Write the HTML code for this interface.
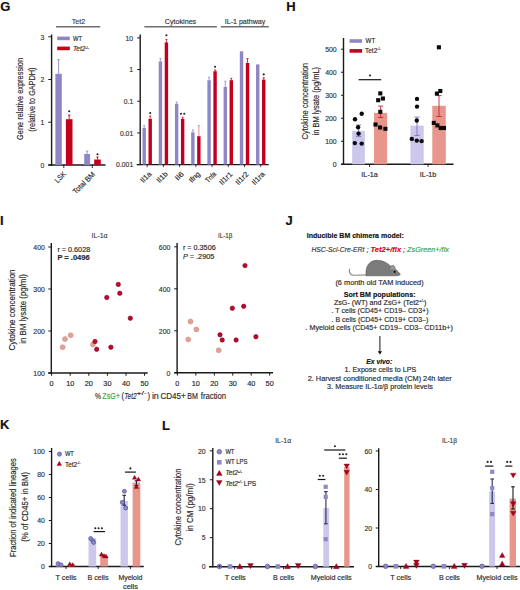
<!DOCTYPE html>
<html><head><meta charset="utf-8"><style>
html,body{margin:0;padding:0;background:#fff;}
svg{display:block;}
text{font-family:"Liberation Sans", sans-serif;}
</style></head><body>
<svg width="520" height="590" viewBox="0 0 520 590">
<rect x="0" y="0" width="520" height="590" fill="#fff"/>
<text x="0.20" y="10.70" font-size="13" text-anchor="start" fill="#111" stroke="#111" stroke-width="0.16" font-weight="bold" >G</text>
<text x="286.20" y="10.80" font-size="13" text-anchor="start" fill="#111" stroke="#111" stroke-width="0.16" font-weight="bold" >H</text>
<text x="0.00" y="224.80" font-size="13" text-anchor="start" fill="#111" stroke="#111" stroke-width="0.16" font-weight="bold" >I</text>
<text x="285.60" y="224.80" font-size="13" text-anchor="start" fill="#111" stroke="#111" stroke-width="0.16" font-weight="bold" >J</text>
<text x="0.10" y="429.30" font-size="13" text-anchor="start" fill="#111" stroke="#111" stroke-width="0.16" font-weight="bold" >K</text>
<text x="162.00" y="429.50" font-size="13" text-anchor="start" fill="#111" stroke="#111" stroke-width="0.16" font-weight="bold" >L</text>
<line x1="51.60" y1="34.50" x2="51.60" y2="165.70" stroke="#1a1a1a" stroke-width="1.4" />
<line x1="48.30" y1="165.00" x2="105.50" y2="165.00" stroke="#1a1a1a" stroke-width="1.4" />
<line x1="48.30" y1="165.00" x2="51.60" y2="165.00" stroke="#1a1a1a" stroke-width="1.0" />
<text x="44.40" y="167.75" font-size="7.7" text-anchor="end" fill="#333" stroke="#333" stroke-width="0.16" textLength="3.85" lengthAdjust="spacingAndGlyphs" >0</text>
<line x1="48.30" y1="122.25" x2="51.60" y2="122.25" stroke="#1a1a1a" stroke-width="1.0" />
<text x="44.40" y="125.00" font-size="7.7" text-anchor="end" fill="#333" stroke="#333" stroke-width="0.16" textLength="3.85" lengthAdjust="spacingAndGlyphs" >1</text>
<line x1="48.30" y1="79.50" x2="51.60" y2="79.50" stroke="#1a1a1a" stroke-width="1.0" />
<text x="44.40" y="82.25" font-size="7.7" text-anchor="end" fill="#333" stroke="#333" stroke-width="0.16" textLength="3.85" lengthAdjust="spacingAndGlyphs" >2</text>
<line x1="48.30" y1="36.75" x2="51.60" y2="36.75" stroke="#1a1a1a" stroke-width="1.0" />
<text x="44.40" y="39.50" font-size="7.7" text-anchor="end" fill="#333" stroke="#333" stroke-width="0.16" textLength="3.85" lengthAdjust="spacingAndGlyphs" >3</text>
<line x1="63.80" y1="165.00" x2="63.80" y2="168.00" stroke="#1a1a1a" stroke-width="0.9" />
<line x1="92.30" y1="165.00" x2="92.30" y2="168.00" stroke="#1a1a1a" stroke-width="0.9" />
<line x1="56.00" y1="26.80" x2="100.20" y2="26.80" stroke="#6e6e6e" stroke-width="1.6" />
<text x="78.50" y="23.80" font-size="7.6" text-anchor="middle" fill="#444" stroke="#444" stroke-width="0.16" textLength="13.4" lengthAdjust="spacingAndGlyphs" >Tet2</text>
<rect x="57.20" y="36.60" width="12.60" height="3.60" fill="#8f86c6" />
<text x="73.00" y="41.00" font-size="6.5" text-anchor="start" fill="#2a2a2a" stroke="#2a2a2a" stroke-width="0.16" textLength="9" lengthAdjust="spacingAndGlyphs" >WT</text>
<rect x="57.20" y="46.60" width="12.60" height="3.60" fill="#c1001f" />
<text x="73.00" y="51.20" font-size="6.5" text-anchor="start" fill="#2a2a2a" stroke="#2a2a2a" stroke-width="0.16" font-style="italic" >Tet2<tspan font-size="3.5" dy="-2.5">-/-</tspan></text>
<line x1="58.60" y1="59.70" x2="58.60" y2="73.80" stroke="#8f86c6" stroke-width="0.9" />
<line x1="57.40" y1="59.70" x2="59.80" y2="59.70" stroke="#8f86c6" stroke-width="0.9" />
<rect x="55.40" y="73.80" width="6.40" height="91.20" fill="#8f86c6" />
<line x1="69.20" y1="115.20" x2="69.20" y2="119.20" stroke="#c1001f" stroke-width="0.9" />
<line x1="68.00" y1="115.20" x2="70.40" y2="115.20" stroke="#c1001f" stroke-width="0.9" />
<rect x="65.90" y="119.20" width="6.60" height="45.80" fill="#c1001f" />
<circle cx="69.20" cy="111.20" r="1.05" fill="#222" />
<line x1="87.10" y1="151.20" x2="87.10" y2="154.00" stroke="#8f86c6" stroke-width="0.9" />
<line x1="85.90" y1="151.20" x2="88.30" y2="151.20" stroke="#8f86c6" stroke-width="0.9" />
<rect x="84.20" y="154.00" width="5.90" height="11.00" fill="#8f86c6" />
<line x1="97.50" y1="157.00" x2="97.50" y2="159.50" stroke="#c1001f" stroke-width="0.9" />
<line x1="96.30" y1="157.00" x2="98.70" y2="157.00" stroke="#c1001f" stroke-width="0.9" />
<rect x="94.20" y="159.50" width="6.60" height="5.50" fill="#c1001f" />
<circle cx="97.50" cy="154.20" r="1.05" fill="#222" />
<text x="66.60" y="174.60" font-size="7.6" text-anchor="end" fill="#2a2a2a" stroke="#2a2a2a" stroke-width="0.16" textLength="12.5" lengthAdjust="spacingAndGlyphs" transform="rotate(-45 66.60 174.60)" >LSK</text>
<text x="95.60" y="174.80" font-size="7.6" text-anchor="end" fill="#2a2a2a" stroke="#2a2a2a" stroke-width="0.16" textLength="28" lengthAdjust="spacingAndGlyphs" transform="rotate(-45 95.60 174.80)" >Total BM</text>
<text x="23.30" y="99.00" font-size="9.6" text-anchor="middle" fill="#2a2a2a" stroke="#2a2a2a" stroke-width="0.16" textLength="82" lengthAdjust="spacingAndGlyphs" transform="rotate(-90 23.30 99.00)" >Gene relative expression</text>
<text x="35.50" y="99.70" font-size="9.6" text-anchor="middle" fill="#2a2a2a" stroke="#2a2a2a" stroke-width="0.16" textLength="64" lengthAdjust="spacingAndGlyphs" transform="rotate(-90 35.50 99.70)" >(relative to GAPDH)</text>
<line x1="140.20" y1="34.50" x2="140.20" y2="165.00" stroke="#1a1a1a" stroke-width="1.4" />
<line x1="136.70" y1="164.60" x2="268.80" y2="164.60" stroke="#1a1a1a" stroke-width="1.4" />
<line x1="137.20" y1="37.88" x2="140.20" y2="37.88" stroke="#1a1a1a" stroke-width="1.0" />
<text x="133.20" y="40.63" font-size="7.7" text-anchor="end" fill="#333" stroke="#333" stroke-width="0.16" textLength="7.7" lengthAdjust="spacingAndGlyphs" >10</text>
<line x1="137.20" y1="69.56" x2="140.20" y2="69.56" stroke="#1a1a1a" stroke-width="1.0" />
<text x="133.20" y="72.31" font-size="7.7" text-anchor="end" fill="#333" stroke="#333" stroke-width="0.16" textLength="3.85" lengthAdjust="spacingAndGlyphs" >1</text>
<line x1="137.20" y1="101.24" x2="140.20" y2="101.24" stroke="#1a1a1a" stroke-width="1.0" />
<text x="133.20" y="103.99" font-size="7.7" text-anchor="end" fill="#333" stroke="#333" stroke-width="0.16" textLength="9.4" lengthAdjust="spacingAndGlyphs" >0.1</text>
<line x1="137.20" y1="132.92" x2="140.20" y2="132.92" stroke="#1a1a1a" stroke-width="1.0" />
<text x="133.20" y="135.67" font-size="7.7" text-anchor="end" fill="#333" stroke="#333" stroke-width="0.16" textLength="13.25" lengthAdjust="spacingAndGlyphs" >0.01</text>
<line x1="137.20" y1="164.60" x2="140.20" y2="164.60" stroke="#1a1a1a" stroke-width="1.0" />
<text x="133.20" y="167.35" font-size="7.7" text-anchor="end" fill="#333" stroke="#333" stroke-width="0.16" textLength="17.1" lengthAdjust="spacingAndGlyphs" >0.001</text>
<line x1="144.40" y1="26.80" x2="216.90" y2="26.80" stroke="#6e6e6e" stroke-width="1.6" />
<text x="180.50" y="23.80" font-size="7.6" text-anchor="middle" fill="#333" stroke="#333" stroke-width="0.16" textLength="31.4" lengthAdjust="spacingAndGlyphs" >Cytokines</text>
<line x1="220.80" y1="26.80" x2="268.80" y2="26.80" stroke="#6e6e6e" stroke-width="1.6" />
<text x="245.00" y="23.90" font-size="7.6" text-anchor="middle" fill="#333" stroke="#333" stroke-width="0.16" textLength="40.5" lengthAdjust="spacingAndGlyphs" >IL-1 pathway</text>
<line x1="144.20" y1="125.60" x2="144.20" y2="127.90" stroke="#8f86c6" stroke-width="0.8" />
<line x1="143.20" y1="125.60" x2="145.20" y2="125.60" stroke="#8f86c6" stroke-width="0.8" />
<rect x="142.50" y="127.90" width="3.40" height="36.70" fill="#8f86c6" />
<line x1="150.20" y1="116.00" x2="150.20" y2="118.80" stroke="#c1001f" stroke-width="0.8" />
<line x1="149.20" y1="116.00" x2="151.20" y2="116.00" stroke="#c1001f" stroke-width="0.8" />
<rect x="148.50" y="118.80" width="3.40" height="45.80" fill="#c1001f" />
<circle cx="150.20" cy="113.00" r="1.05" fill="#222" />
<line x1="147.20" y1="164.60" x2="147.20" y2="167.20" stroke="#1a1a1a" stroke-width="0.8" />
<text x="151.90" y="174.60" font-size="7.4" text-anchor="end" fill="#2a2a2a" stroke="#2a2a2a" stroke-width="0.16" textLength="12.2" lengthAdjust="spacingAndGlyphs" transform="rotate(-45 151.90 174.60)" >Il1a</text>
<line x1="160.42" y1="58.50" x2="160.42" y2="61.40" stroke="#8f86c6" stroke-width="0.8" />
<line x1="159.42" y1="58.50" x2="161.42" y2="58.50" stroke="#8f86c6" stroke-width="0.8" />
<rect x="158.72" y="61.40" width="3.40" height="103.20" fill="#8f86c6" />
<line x1="166.42" y1="39.40" x2="166.42" y2="42.40" stroke="#c1001f" stroke-width="0.8" />
<line x1="165.42" y1="39.40" x2="167.42" y2="39.40" stroke="#c1001f" stroke-width="0.8" />
<rect x="164.72" y="42.40" width="3.40" height="122.20" fill="#c1001f" />
<circle cx="166.42" cy="35.30" r="1.05" fill="#222" />
<line x1="163.42" y1="164.60" x2="163.42" y2="167.20" stroke="#1a1a1a" stroke-width="0.8" />
<text x="168.12" y="174.60" font-size="7.4" text-anchor="end" fill="#2a2a2a" stroke="#2a2a2a" stroke-width="0.16" textLength="12.2" lengthAdjust="spacingAndGlyphs" transform="rotate(-45 168.12 174.60)" >Il1b</text>
<line x1="176.64" y1="102.00" x2="176.64" y2="103.80" stroke="#8f86c6" stroke-width="0.8" />
<line x1="175.64" y1="102.00" x2="177.64" y2="102.00" stroke="#8f86c6" stroke-width="0.8" />
<rect x="174.94" y="103.80" width="3.40" height="60.80" fill="#8f86c6" />
<line x1="182.64" y1="117.30" x2="182.64" y2="118.80" stroke="#c1001f" stroke-width="0.8" />
<line x1="181.64" y1="117.30" x2="183.64" y2="117.30" stroke="#c1001f" stroke-width="0.8" />
<rect x="180.94" y="118.80" width="3.40" height="45.80" fill="#c1001f" />
<circle cx="180.99" cy="113.70" r="1.05" fill="#222" />
<circle cx="184.29" cy="113.70" r="1.05" fill="#222" />
<line x1="179.64" y1="164.60" x2="179.64" y2="167.20" stroke="#1a1a1a" stroke-width="0.8" />
<text x="184.34" y="174.60" font-size="7.4" text-anchor="end" fill="#2a2a2a" stroke="#2a2a2a" stroke-width="0.16" textLength="9.149999999999999" lengthAdjust="spacingAndGlyphs" transform="rotate(-45 184.34 174.60)" >Il6</text>
<line x1="192.86" y1="130.00" x2="192.86" y2="132.30" stroke="#8f86c6" stroke-width="0.8" />
<line x1="191.86" y1="130.00" x2="193.86" y2="130.00" stroke="#8f86c6" stroke-width="0.8" />
<rect x="191.16" y="132.30" width="3.40" height="32.30" fill="#8f86c6" />
<line x1="198.86" y1="125.60" x2="198.86" y2="136.20" stroke="#d9707f" stroke-width="0.8" />
<line x1="197.86" y1="125.60" x2="199.86" y2="125.60" stroke="#d9707f" stroke-width="0.8" />
<rect x="197.16" y="136.20" width="3.40" height="28.40" fill="#c1001f" />
<line x1="195.86" y1="164.60" x2="195.86" y2="167.20" stroke="#1a1a1a" stroke-width="0.8" />
<text x="200.56" y="174.60" font-size="7.4" text-anchor="end" fill="#2a2a2a" stroke="#2a2a2a" stroke-width="0.16" textLength="12.2" lengthAdjust="spacingAndGlyphs" transform="rotate(-45 200.56 174.60)" >Ifng</text>
<line x1="209.08" y1="77.20" x2="209.08" y2="80.20" stroke="#8f86c6" stroke-width="0.8" />
<line x1="208.08" y1="77.20" x2="210.08" y2="77.20" stroke="#8f86c6" stroke-width="0.8" />
<rect x="207.38" y="80.20" width="3.40" height="84.40" fill="#8f86c6" />
<line x1="215.08" y1="70.00" x2="215.08" y2="71.20" stroke="#c1001f" stroke-width="0.8" />
<line x1="214.08" y1="70.00" x2="216.08" y2="70.00" stroke="#c1001f" stroke-width="0.8" />
<rect x="213.38" y="71.20" width="3.40" height="93.40" fill="#c1001f" />
<circle cx="215.08" cy="66.70" r="1.05" fill="#222" />
<line x1="212.08" y1="164.60" x2="212.08" y2="167.20" stroke="#1a1a1a" stroke-width="0.8" />
<text x="216.78" y="174.60" font-size="7.4" text-anchor="end" fill="#2a2a2a" stroke="#2a2a2a" stroke-width="0.16" textLength="12.2" lengthAdjust="spacingAndGlyphs" transform="rotate(-45 216.78 174.60)" >Tnfa</text>
<line x1="225.30" y1="81.20" x2="225.30" y2="86.90" stroke="#8f86c6" stroke-width="0.8" />
<line x1="224.30" y1="81.20" x2="226.30" y2="81.20" stroke="#8f86c6" stroke-width="0.8" />
<rect x="223.60" y="86.90" width="3.40" height="77.70" fill="#8f86c6" />
<line x1="231.30" y1="78.30" x2="231.30" y2="80.20" stroke="#c1001f" stroke-width="0.8" />
<line x1="230.30" y1="78.30" x2="232.30" y2="78.30" stroke="#c1001f" stroke-width="0.8" />
<rect x="229.60" y="80.20" width="3.40" height="84.40" fill="#c1001f" />
<line x1="228.30" y1="164.60" x2="228.30" y2="167.20" stroke="#1a1a1a" stroke-width="0.8" />
<text x="233.00" y="174.60" font-size="7.4" text-anchor="end" fill="#2a2a2a" stroke="#2a2a2a" stroke-width="0.16" textLength="15.25" lengthAdjust="spacingAndGlyphs" transform="rotate(-45 233.00 174.60)" >Il1r1</text>
<rect x="239.82" y="51.30" width="3.40" height="113.30" fill="#8f86c6" />
<line x1="247.52" y1="58.50" x2="247.52" y2="62.90" stroke="#c1001f" stroke-width="0.8" />
<line x1="246.52" y1="58.50" x2="248.52" y2="58.50" stroke="#c1001f" stroke-width="0.8" />
<rect x="245.82" y="62.90" width="3.40" height="101.70" fill="#c1001f" />
<line x1="244.52" y1="164.60" x2="244.52" y2="167.20" stroke="#1a1a1a" stroke-width="0.8" />
<text x="249.22" y="174.60" font-size="7.4" text-anchor="end" fill="#2a2a2a" stroke="#2a2a2a" stroke-width="0.16" textLength="15.25" lengthAdjust="spacingAndGlyphs" transform="rotate(-45 249.22 174.60)" >Il1r2</text>
<rect x="256.04" y="64.40" width="3.40" height="100.20" fill="#8f86c6" />
<line x1="263.74" y1="77.70" x2="263.74" y2="79.60" stroke="#c1001f" stroke-width="0.8" />
<line x1="262.74" y1="77.70" x2="264.74" y2="77.70" stroke="#c1001f" stroke-width="0.8" />
<rect x="262.04" y="79.60" width="3.40" height="85.00" fill="#c1001f" />
<circle cx="263.74" cy="74.40" r="1.05" fill="#222" />
<line x1="260.74" y1="164.60" x2="260.74" y2="167.20" stroke="#1a1a1a" stroke-width="0.8" />
<text x="265.44" y="174.60" font-size="7.4" text-anchor="end" fill="#2a2a2a" stroke="#2a2a2a" stroke-width="0.16" textLength="15.25" lengthAdjust="spacingAndGlyphs" transform="rotate(-45 265.44 174.60)" >Il1ra</text>
<line x1="343.50" y1="38.00" x2="343.50" y2="164.80" stroke="#1a1a1a" stroke-width="1.4" />
<line x1="341.00" y1="164.30" x2="453.50" y2="164.30" stroke="#1a1a1a" stroke-width="1.4" />
<line x1="341.00" y1="164.30" x2="343.50" y2="164.30" stroke="#1a1a1a" stroke-width="1.0" />
<text x="336.70" y="167.05" font-size="7.7" text-anchor="end" fill="#333" stroke="#333" stroke-width="0.16" textLength="3.85" lengthAdjust="spacingAndGlyphs" >0</text>
<line x1="341.00" y1="141.28" x2="343.50" y2="141.28" stroke="#1a1a1a" stroke-width="1.0" />
<text x="336.70" y="144.03" font-size="7.7" text-anchor="end" fill="#333" stroke="#333" stroke-width="0.16" textLength="11.55" lengthAdjust="spacingAndGlyphs" >100</text>
<line x1="341.00" y1="118.26" x2="343.50" y2="118.26" stroke="#1a1a1a" stroke-width="1.0" />
<text x="336.70" y="121.01" font-size="7.7" text-anchor="end" fill="#333" stroke="#333" stroke-width="0.16" textLength="11.55" lengthAdjust="spacingAndGlyphs" >200</text>
<line x1="341.00" y1="95.24" x2="343.50" y2="95.24" stroke="#1a1a1a" stroke-width="1.0" />
<text x="336.70" y="97.99" font-size="7.7" text-anchor="end" fill="#333" stroke="#333" stroke-width="0.16" textLength="11.55" lengthAdjust="spacingAndGlyphs" >300</text>
<line x1="341.00" y1="72.22" x2="343.50" y2="72.22" stroke="#1a1a1a" stroke-width="1.0" />
<text x="336.70" y="74.97" font-size="7.7" text-anchor="end" fill="#333" stroke="#333" stroke-width="0.16" textLength="11.55" lengthAdjust="spacingAndGlyphs" >400</text>
<line x1="341.00" y1="49.20" x2="343.50" y2="49.20" stroke="#1a1a1a" stroke-width="1.0" />
<text x="336.70" y="51.95" font-size="7.7" text-anchor="end" fill="#333" stroke="#333" stroke-width="0.16" textLength="11.55" lengthAdjust="spacingAndGlyphs" >500</text>
<line x1="369.60" y1="164.30" x2="369.60" y2="167.00" stroke="#1a1a1a" stroke-width="0.9" />
<line x1="428.10" y1="164.30" x2="428.10" y2="167.00" stroke="#1a1a1a" stroke-width="0.9" />
<text x="369.60" y="177.10" font-size="7" text-anchor="middle" fill="#2a2a2a" stroke="#2a2a2a" stroke-width="0.16" textLength="16.5" lengthAdjust="spacingAndGlyphs" >IL-1a</text>
<text x="428.10" y="177.10" font-size="7" text-anchor="middle" fill="#2a2a2a" stroke="#2a2a2a" stroke-width="0.16" textLength="16.5" lengthAdjust="spacingAndGlyphs" >IL-1b</text>
<rect x="349.60" y="39.20" width="12.50" height="3.60" fill="#8f86c6" />
<text x="365.60" y="42.90" font-size="6.8" text-anchor="start" fill="#2a2a2a" stroke="#2a2a2a" stroke-width="0.16" textLength="9.6" lengthAdjust="spacingAndGlyphs" >WT</text>
<rect x="349.60" y="49.10" width="12.50" height="3.60" fill="#c1001f" />
<text x="365.00" y="52.80" font-size="6.5" text-anchor="start" fill="#2a2a2a" stroke="#2a2a2a" stroke-width="0.16" >Tet2<tspan font-size="3.5" dy="-2.5">-/-</tspan></text>
<line x1="358.60" y1="79.70" x2="381.20" y2="79.70" stroke="#151515" stroke-width="1.2" />
<circle cx="370.00" cy="75.50" r="1.05" fill="#222" />
<rect x="352.20" y="130.90" width="12.70" height="33.40" fill="#cbc8ec" />
<rect x="374.00" y="112.90" width="13.10" height="51.40" fill="#e8968b" />
<rect x="410.40" y="125.60" width="13.30" height="38.70" fill="#cbc8ec" />
<rect x="432.30" y="105.80" width="13.50" height="58.50" fill="#e8968b" />
<line x1="358.60" y1="125.00" x2="358.60" y2="136.60" stroke="#7d75bb" stroke-width="0.9" />
<line x1="356.00" y1="125.00" x2="361.20" y2="125.00" stroke="#7d75bb" stroke-width="0.9" />
<line x1="356.00" y1="136.60" x2="361.20" y2="136.60" stroke="#7d75bb" stroke-width="0.9" />
<line x1="380.60" y1="106.10" x2="380.60" y2="117.50" stroke="#c0283a" stroke-width="0.9" />
<line x1="378.00" y1="106.10" x2="383.20" y2="106.10" stroke="#c0283a" stroke-width="0.9" />
<line x1="378.00" y1="117.50" x2="383.20" y2="117.50" stroke="#c0283a" stroke-width="0.9" />
<line x1="417.00" y1="117.10" x2="417.00" y2="135.50" stroke="#7d75bb" stroke-width="0.9" />
<line x1="414.40" y1="117.10" x2="419.60" y2="117.10" stroke="#7d75bb" stroke-width="0.9" />
<line x1="414.40" y1="135.50" x2="419.60" y2="135.50" stroke="#7d75bb" stroke-width="0.9" />
<line x1="439.00" y1="95.60" x2="439.00" y2="116.50" stroke="#c0283a" stroke-width="0.9" />
<line x1="436.40" y1="95.60" x2="441.60" y2="95.60" stroke="#c0283a" stroke-width="0.9" />
<line x1="436.40" y1="116.50" x2="441.60" y2="116.50" stroke="#c0283a" stroke-width="0.9" />
<circle cx="355.00" cy="119.20" r="2.2" fill="#0a0a0a" />
<circle cx="361.70" cy="113.70" r="2.2" fill="#0a0a0a" />
<circle cx="358.10" cy="127.30" r="2.2" fill="#0a0a0a" />
<circle cx="358.60" cy="133.60" r="2.2" fill="#0a0a0a" />
<circle cx="354.80" cy="143.10" r="2.2" fill="#0a0a0a" />
<circle cx="361.70" cy="143.60" r="2.2" fill="#0a0a0a" />
<circle cx="417.00" cy="98.90" r="2.2" fill="#0a0a0a" />
<circle cx="417.00" cy="106.60" r="2.2" fill="#0a0a0a" />
<circle cx="416.80" cy="120.50" r="2.2" fill="#0a0a0a" />
<circle cx="411.80" cy="138.90" r="2.2" fill="#0a0a0a" />
<circle cx="416.80" cy="140.60" r="2.2" fill="#0a0a0a" />
<circle cx="421.60" cy="141.10" r="2.2" fill="#0a0a0a" />
<rect x="378.25" y="91.35" width="4.10" height="4.10" fill="#0a0a0a" />
<rect x="376.15" y="98.15" width="4.10" height="4.10" fill="#0a0a0a" />
<rect x="380.85" y="96.45" width="4.10" height="4.10" fill="#0a0a0a" />
<rect x="378.25" y="109.75" width="4.10" height="4.10" fill="#0a0a0a" />
<rect x="373.45" y="122.45" width="4.10" height="4.10" fill="#0a0a0a" />
<rect x="378.05" y="125.45" width="4.10" height="4.10" fill="#0a0a0a" />
<rect x="383.35" y="126.75" width="4.10" height="4.10" fill="#0a0a0a" />
<rect x="436.85" y="45.25" width="4.10" height="4.10" fill="#0a0a0a" />
<rect x="438.25" y="88.95" width="4.10" height="4.10" fill="#0a0a0a" />
<rect x="434.85" y="91.55" width="4.10" height="4.10" fill="#0a0a0a" />
<rect x="431.75" y="120.85" width="4.10" height="4.10" fill="#0a0a0a" />
<rect x="435.35" y="123.35" width="4.10" height="4.10" fill="#0a0a0a" />
<rect x="438.65" y="125.95" width="4.10" height="4.10" fill="#0a0a0a" />
<rect x="441.95" y="125.95" width="4.10" height="4.10" fill="#0a0a0a" />
<text x="307.60" y="101.20" font-size="9.6" text-anchor="middle" fill="#2a2a2a" stroke="#2a2a2a" stroke-width="0.16" textLength="76.5" lengthAdjust="spacingAndGlyphs" transform="rotate(-90 307.60 101.20)" >Cytokine concentration</text>
<text x="318.60" y="101.20" font-size="9.6" text-anchor="middle" fill="#2a2a2a" stroke="#2a2a2a" stroke-width="0.16" textLength="68.5" lengthAdjust="spacingAndGlyphs" transform="rotate(-90 318.60 101.20)" >in BM lysate (pg/mL)</text>
<line x1="51.30" y1="243.00" x2="51.30" y2="373.70" stroke="#1a1a1a" stroke-width="1.4" />
<line x1="48.30" y1="373.00" x2="147.70" y2="373.00" stroke="#1a1a1a" stroke-width="1.4" />
<line x1="48.30" y1="373.00" x2="51.10" y2="373.00" stroke="#1a1a1a" stroke-width="1.0" />
<text x="44.90" y="375.75" font-size="7.7" text-anchor="end" fill="#333" stroke="#333" stroke-width="0.16" textLength="11.55" lengthAdjust="spacingAndGlyphs" >100</text>
<line x1="48.30" y1="331.00" x2="51.10" y2="331.00" stroke="#1a1a1a" stroke-width="1.0" />
<text x="44.90" y="333.75" font-size="7.7" text-anchor="end" fill="#333" stroke="#333" stroke-width="0.16" textLength="11.55" lengthAdjust="spacingAndGlyphs" >200</text>
<line x1="48.30" y1="289.00" x2="51.10" y2="289.00" stroke="#1a1a1a" stroke-width="1.0" />
<text x="44.90" y="291.75" font-size="7.7" text-anchor="end" fill="#333" stroke="#333" stroke-width="0.16" textLength="11.55" lengthAdjust="spacingAndGlyphs" >300</text>
<line x1="48.30" y1="247.00" x2="51.10" y2="247.00" stroke="#1a1a1a" stroke-width="1.0" />
<text x="44.90" y="249.75" font-size="7.7" text-anchor="end" fill="#333" stroke="#333" stroke-width="0.16" textLength="11.55" lengthAdjust="spacingAndGlyphs" >400</text>
<line x1="51.60" y1="373.00" x2="51.60" y2="375.80" stroke="#1a1a1a" stroke-width="1.0" />
<text x="51.60" y="386.10" font-size="7.3" text-anchor="middle" fill="#2a2a2a" stroke="#2a2a2a" stroke-width="0.16" >0</text>
<line x1="70.20" y1="373.00" x2="70.20" y2="375.80" stroke="#1a1a1a" stroke-width="1.0" />
<text x="70.20" y="386.10" font-size="7.3" text-anchor="middle" fill="#2a2a2a" stroke="#2a2a2a" stroke-width="0.16" >10</text>
<line x1="88.80" y1="373.00" x2="88.80" y2="375.80" stroke="#1a1a1a" stroke-width="1.0" />
<text x="88.80" y="386.10" font-size="7.3" text-anchor="middle" fill="#2a2a2a" stroke="#2a2a2a" stroke-width="0.16" >20</text>
<line x1="107.40" y1="373.00" x2="107.40" y2="375.80" stroke="#1a1a1a" stroke-width="1.0" />
<text x="107.40" y="386.10" font-size="7.3" text-anchor="middle" fill="#2a2a2a" stroke="#2a2a2a" stroke-width="0.16" >30</text>
<line x1="126.00" y1="373.00" x2="126.00" y2="375.80" stroke="#1a1a1a" stroke-width="1.0" />
<text x="126.00" y="386.10" font-size="7.3" text-anchor="middle" fill="#2a2a2a" stroke="#2a2a2a" stroke-width="0.16" >40</text>
<line x1="144.60" y1="373.00" x2="144.60" y2="375.80" stroke="#1a1a1a" stroke-width="1.0" />
<text x="144.60" y="386.10" font-size="7.3" text-anchor="middle" fill="#2a2a2a" stroke="#2a2a2a" stroke-width="0.16" >50</text>
<text x="99.60" y="237.60" font-size="7.4" text-anchor="middle" fill="#444" stroke="#444" stroke-width="0.16" textLength="16.0" lengthAdjust="spacingAndGlyphs" >IL-1&#945;</text>
<text x="57.40" y="251.60" font-size="7" text-anchor="start" fill="#2a2a2a" stroke="#2a2a2a" stroke-width="0.16" textLength="32.8" lengthAdjust="spacingAndGlyphs" >r = 0.6028</text>
<text x="57.40" y="259.60" font-size="7" text-anchor="start" fill="#2a2a2a" stroke="#2a2a2a" stroke-width="0.16" font-weight="bold" textLength="32.3" lengthAdjust="spacingAndGlyphs" >P = .0496</text>
<circle cx="70.70" cy="335.20" r="2.5" fill="#dfa294" stroke="#c98b80" stroke-width="0.5"/>
<circle cx="65.00" cy="339.00" r="2.5" fill="#dfa294" stroke="#c98b80" stroke-width="0.5"/>
<circle cx="62.60" cy="347.20" r="2.5" fill="#dfa294" stroke="#c98b80" stroke-width="0.5"/>
<circle cx="92.90" cy="344.50" r="2.5" fill="#dfa294" stroke="#c98b80" stroke-width="0.5"/>
<circle cx="118.30" cy="284.40" r="2.2" fill="#bd0a2c" stroke="#800019" stroke-width="0.6"/>
<circle cx="119.80" cy="293.30" r="2.2" fill="#bd0a2c" stroke="#800019" stroke-width="0.6"/>
<circle cx="106.80" cy="297.50" r="2.2" fill="#bd0a2c" stroke="#800019" stroke-width="0.6"/>
<circle cx="130.30" cy="318.20" r="2.2" fill="#bd0a2c" stroke="#800019" stroke-width="0.6"/>
<circle cx="95.00" cy="341.50" r="2.2" fill="#bd0a2c" stroke="#800019" stroke-width="0.6"/>
<circle cx="96.70" cy="349.30" r="2.2" fill="#bd0a2c" stroke="#800019" stroke-width="0.6"/>
<circle cx="110.90" cy="347.20" r="2.2" fill="#bd0a2c" stroke="#800019" stroke-width="0.6"/>
<line x1="177.10" y1="243.00" x2="177.10" y2="373.50" stroke="#1a1a1a" stroke-width="1.4" />
<line x1="174.20" y1="372.80" x2="273.00" y2="372.80" stroke="#1a1a1a" stroke-width="1.4" />
<line x1="174.20" y1="372.80" x2="177.10" y2="372.80" stroke="#1a1a1a" stroke-width="1.0" />
<text x="170.40" y="375.55" font-size="7.7" text-anchor="end" fill="#333" stroke="#333" stroke-width="0.16" textLength="3.85" lengthAdjust="spacingAndGlyphs" >0</text>
<line x1="174.20" y1="330.80" x2="177.10" y2="330.80" stroke="#1a1a1a" stroke-width="1.0" />
<text x="170.40" y="333.55" font-size="7.7" text-anchor="end" fill="#333" stroke="#333" stroke-width="0.16" textLength="11.55" lengthAdjust="spacingAndGlyphs" >200</text>
<line x1="174.20" y1="288.80" x2="177.10" y2="288.80" stroke="#1a1a1a" stroke-width="1.0" />
<text x="170.40" y="291.55" font-size="7.7" text-anchor="end" fill="#333" stroke="#333" stroke-width="0.16" textLength="11.55" lengthAdjust="spacingAndGlyphs" >400</text>
<line x1="174.20" y1="246.80" x2="177.10" y2="246.80" stroke="#1a1a1a" stroke-width="1.0" />
<text x="170.40" y="249.55" font-size="7.7" text-anchor="end" fill="#333" stroke="#333" stroke-width="0.16" textLength="11.55" lengthAdjust="spacingAndGlyphs" >600</text>
<line x1="177.40" y1="372.80" x2="177.40" y2="375.60" stroke="#1a1a1a" stroke-width="1.0" />
<text x="177.40" y="386.10" font-size="7.3" text-anchor="middle" fill="#2a2a2a" stroke="#2a2a2a" stroke-width="0.16" >0</text>
<line x1="195.85" y1="372.80" x2="195.85" y2="375.60" stroke="#1a1a1a" stroke-width="1.0" />
<text x="195.85" y="386.10" font-size="7.3" text-anchor="middle" fill="#2a2a2a" stroke="#2a2a2a" stroke-width="0.16" >10</text>
<line x1="214.30" y1="372.80" x2="214.30" y2="375.60" stroke="#1a1a1a" stroke-width="1.0" />
<text x="214.30" y="386.10" font-size="7.3" text-anchor="middle" fill="#2a2a2a" stroke="#2a2a2a" stroke-width="0.16" >20</text>
<line x1="232.75" y1="372.80" x2="232.75" y2="375.60" stroke="#1a1a1a" stroke-width="1.0" />
<text x="232.75" y="386.10" font-size="7.3" text-anchor="middle" fill="#2a2a2a" stroke="#2a2a2a" stroke-width="0.16" >30</text>
<line x1="251.20" y1="372.80" x2="251.20" y2="375.60" stroke="#1a1a1a" stroke-width="1.0" />
<text x="251.20" y="386.10" font-size="7.3" text-anchor="middle" fill="#2a2a2a" stroke="#2a2a2a" stroke-width="0.16" >40</text>
<line x1="269.65" y1="372.80" x2="269.65" y2="375.60" stroke="#1a1a1a" stroke-width="1.0" />
<text x="269.65" y="386.10" font-size="7.3" text-anchor="middle" fill="#2a2a2a" stroke="#2a2a2a" stroke-width="0.16" >50</text>
<text x="225.20" y="237.60" font-size="7.4" text-anchor="middle" fill="#444" stroke="#444" stroke-width="0.16" textLength="14.6" lengthAdjust="spacingAndGlyphs" >IL-1&#946;</text>
<text x="182.90" y="250.30" font-size="7" text-anchor="start" fill="#2a2a2a" stroke="#2a2a2a" stroke-width="0.16" textLength="32.8" lengthAdjust="spacingAndGlyphs" >r = 0.3506</text>
<text x="182.90" y="258.50" font-size="7" text-anchor="start" fill="#2a2a2a" stroke="#2a2a2a" stroke-width="0.16" textLength="31.5" lengthAdjust="spacingAndGlyphs" ><tspan font-style="italic">P</tspan> = .2905</text>
<circle cx="190.50" cy="321.50" r="2.5" fill="#dfa294" stroke="#c98b80" stroke-width="0.5"/>
<circle cx="196.40" cy="329.40" r="2.5" fill="#dfa294" stroke="#c98b80" stroke-width="0.5"/>
<circle cx="188.30" cy="339.40" r="2.5" fill="#dfa294" stroke="#c98b80" stroke-width="0.5"/>
<circle cx="218.70" cy="350.30" r="2.5" fill="#dfa294" stroke="#c98b80" stroke-width="0.5"/>
<circle cx="245.00" cy="265.60" r="2.2" fill="#bd0a2c" stroke="#800019" stroke-width="0.6"/>
<circle cx="232.30" cy="308.20" r="2.2" fill="#bd0a2c" stroke="#800019" stroke-width="0.6"/>
<circle cx="243.70" cy="306.30" r="2.2" fill="#bd0a2c" stroke="#800019" stroke-width="0.6"/>
<circle cx="220.00" cy="334.80" r="2.2" fill="#bd0a2c" stroke="#800019" stroke-width="0.6"/>
<circle cx="222.20" cy="340.00" r="2.2" fill="#bd0a2c" stroke="#800019" stroke-width="0.6"/>
<circle cx="236.10" cy="340.00" r="2.2" fill="#bd0a2c" stroke="#800019" stroke-width="0.6"/>
<circle cx="255.90" cy="336.70" r="2.2" fill="#bd0a2c" stroke="#800019" stroke-width="0.6"/>
<text x="14.80" y="310.00" font-size="9.6" text-anchor="middle" fill="#2a2a2a" stroke="#2a2a2a" stroke-width="0.16" textLength="81" lengthAdjust="spacingAndGlyphs" transform="rotate(-90 14.80 310.00)" >Cytokine concentration</text>
<text x="26.40" y="309.00" font-size="9.6" text-anchor="middle" fill="#2a2a2a" stroke="#2a2a2a" stroke-width="0.16" textLength="69.5" lengthAdjust="spacingAndGlyphs" transform="rotate(-90 26.40 309.00)" >in BM lysate (pg/ml)</text>
<text x="95.00" y="398.50" font-size="9.2" text-anchor="start" fill="#2a2a2a" stroke="#2a2a2a" stroke-width="0.16" textLength="6.0" lengthAdjust="spacingAndGlyphs" >%</text>
<text x="102.30" y="398.50" font-size="9.2" text-anchor="start" fill="#3aa54a" stroke="#3aa54a" stroke-width="0.16" textLength="17.6" lengthAdjust="spacingAndGlyphs" >ZsG+</text>
<text x="121.50" y="398.50" font-size="9.2" text-anchor="start" fill="#2a2a2a" stroke="#2a2a2a" stroke-width="0.16" textLength="2.6" lengthAdjust="spacingAndGlyphs" >(</text>
<text x="124.20" y="398.50" font-size="9.2" text-anchor="start" fill="#2a2a2a" stroke="#2a2a2a" stroke-width="0.16" font-style="italic" textLength="12.4" lengthAdjust="spacingAndGlyphs" >Tet2</text>
<text x="136.60" y="395.10" font-size="5.6" text-anchor="start" fill="#2a2a2a" stroke="#2a2a2a" stroke-width="0.16" textLength="10.2" lengthAdjust="spacingAndGlyphs" >+/-</text>
<text x="147.60" y="398.50" font-size="9.2" text-anchor="start" fill="#2a2a2a" stroke="#2a2a2a" stroke-width="0.16" textLength="2.6" lengthAdjust="spacingAndGlyphs" >)</text>
<text x="151.90" y="398.50" font-size="9.2" text-anchor="start" fill="#2a2a2a" stroke="#2a2a2a" stroke-width="0.16" textLength="6.9" lengthAdjust="spacingAndGlyphs" >in</text>
<text x="160.40" y="398.50" font-size="9.2" text-anchor="start" fill="#2a2a2a" stroke="#2a2a2a" stroke-width="0.16" textLength="25.3" lengthAdjust="spacingAndGlyphs" >CD45+</text>
<text x="187.30" y="398.50" font-size="9.2" text-anchor="start" fill="#2a2a2a" stroke="#2a2a2a" stroke-width="0.16" textLength="10.7" lengthAdjust="spacingAndGlyphs" >BM</text>
<text x="200.80" y="398.50" font-size="9.2" text-anchor="start" fill="#2a2a2a" stroke="#2a2a2a" stroke-width="0.16" textLength="25.3" lengthAdjust="spacingAndGlyphs" >fraction</text>
<text x="306.70" y="237.80" font-size="7.2" text-anchor="start" fill="#111" stroke="#111" stroke-width="0.16" font-weight="bold" textLength="97.2" lengthAdjust="spacingAndGlyphs" >Inducible BM chimera model:</text>
<text x="311.40" y="251.60" font-size="7.6" text-anchor="start" fill="#333" stroke="#333" stroke-width="0.16" font-style="italic" textLength="53.0" lengthAdjust="spacingAndGlyphs" >HSC-Scl-Cre-ERt</text>
<text x="366.60" y="251.60" font-size="7.6" text-anchor="start" fill="#333" stroke="#333" stroke-width="0.16" font-style="italic" textLength="2.2" lengthAdjust="spacingAndGlyphs" >;</text>
<text x="370.50" y="251.60" font-size="7.6" text-anchor="start" fill="#e3001b" stroke="#e3001b" stroke-width="0.16" font-weight="bold" font-style="italic" textLength="30.6" lengthAdjust="spacingAndGlyphs" >Tet2+/flx</text>
<text x="402.90" y="251.60" font-size="7.6" text-anchor="start" fill="#333" stroke="#333" stroke-width="0.16" font-style="italic" textLength="2.2" lengthAdjust="spacingAndGlyphs" >;</text>
<text x="407.10" y="251.60" font-size="7.6" text-anchor="start" fill="#3c9e4c" stroke="#3c9e4c" stroke-width="0.16" font-style="italic" textLength="41.8" lengthAdjust="spacingAndGlyphs" >ZsGreen+/flx</text>
<path d="M349.6,269.2 C348.6,272.6 350.2,275.4 354.5,275.2 L367.5,274.9" fill="none" stroke="#8a8a8a" stroke-width="1.1" stroke-linecap="round"/>
<path d="M366.2,275.8 C364.8,266.5 369.5,260.3 377,260.3 C384,260.3 388.5,264 391,266.5 C395,268.5 398.5,271.5 400.3,274.3 C399.8,275.6 398,275.8 395,275.8 Z" fill="#7b7b7b" stroke="#5a5a5a" stroke-width="0.6"/>
<path d="M389.6,270.5 C389.4,267.5 390.8,265.3 392.6,265.3 C394.4,265.3 395.6,267.3 395.3,270.2 Z" fill="#959595" stroke="#606060" stroke-width="0.5"/>
<circle cx="394.70" cy="271.80" r="1.15" fill="#111" />
<text x="379.50" y="284.60" font-size="7" text-anchor="middle" fill="#2a2a2a" stroke="#2a2a2a" stroke-width="0.16" textLength="88.2" lengthAdjust="spacingAndGlyphs" >(6 month old TAM induced)</text>
<text x="379.60" y="297.00" font-size="7.4" text-anchor="middle" fill="#111" stroke="#111" stroke-width="0.16" font-weight="bold" textLength="71.9" lengthAdjust="spacingAndGlyphs" >Sort BM populations:</text>
<text x="380.20" y="304.50" font-size="7.2" text-anchor="middle" fill="#2a2a2a" stroke="#2a2a2a" stroke-width="0.16" textLength="92.6" lengthAdjust="spacingAndGlyphs" >ZsG- (WT) and ZsG+ (Tet2<tspan font-size="4.2" dy="-2.6">+/-</tspan><tspan dy="2.6">)</tspan></text>
<text x="331.50" y="313.30" font-size="7.2" text-anchor="start" fill="#2a2a2a" stroke="#2a2a2a" stroke-width="0.16" textLength="97.1" lengthAdjust="spacingAndGlyphs" >. T cells (CD45+ CD19&#8211; CD3+)</text>
<text x="331.50" y="321.70" font-size="7.2" text-anchor="start" fill="#2a2a2a" stroke="#2a2a2a" stroke-width="0.16" textLength="96.8" lengthAdjust="spacingAndGlyphs" >. B cells (CD45+ CD19+ CD3&#8211;)</text>
<text x="305.40" y="330.20" font-size="7.2" text-anchor="start" fill="#2a2a2a" stroke="#2a2a2a" stroke-width="0.16" textLength="147.4" lengthAdjust="spacingAndGlyphs" >. Myeloid cells (CD45+ CD19&#8211; CD3&#8211; CD11b+)</text>
<line x1="379.90" y1="336.10" x2="379.90" y2="352.00" stroke="#4a4a4a" stroke-width="1.3" />
<polygon points="377.7,351.3 382.1,351.3 379.9,354.6" fill="#111"/>
<text x="366.20" y="364.00" font-size="7.4" text-anchor="start" fill="#111" stroke="#111" stroke-width="0.16" font-weight="bold" font-style="italic" textLength="26.1" lengthAdjust="spacingAndGlyphs" >Ex vivo:</text>
<text x="380.40" y="372.30" font-size="7.2" text-anchor="middle" fill="#2a2a2a" stroke="#2a2a2a" stroke-width="0.16" textLength="71.7" lengthAdjust="spacingAndGlyphs" >1. Expose cells to LPS</text>
<text x="379.70" y="380.60" font-size="7.2" text-anchor="middle" fill="#2a2a2a" stroke="#2a2a2a" stroke-width="0.16" textLength="144.0" lengthAdjust="spacingAndGlyphs" >2. Harvest conditioned media (CM) 24h later</text>
<text x="380.00" y="389.20" font-size="7.2" text-anchor="middle" fill="#2a2a2a" stroke="#2a2a2a" stroke-width="0.16" textLength="105.8" lengthAdjust="spacingAndGlyphs" >3. Measure IL-1&#945;/&#946; protein levels</text>
<line x1="51.60" y1="448.00" x2="51.60" y2="567.20" stroke="#1a1a1a" stroke-width="1.4" />
<line x1="48.80" y1="566.50" x2="143.80" y2="566.50" stroke="#1a1a1a" stroke-width="1.4" />
<line x1="48.80" y1="566.50" x2="51.60" y2="566.50" stroke="#1a1a1a" stroke-width="1.0" />
<text x="44.90" y="569.25" font-size="7.7" text-anchor="end" fill="#333" stroke="#333" stroke-width="0.16" textLength="3.85" lengthAdjust="spacingAndGlyphs" >0</text>
<line x1="48.80" y1="543.50" x2="51.60" y2="543.50" stroke="#1a1a1a" stroke-width="1.0" />
<text x="44.90" y="546.25" font-size="7.7" text-anchor="end" fill="#333" stroke="#333" stroke-width="0.16" textLength="7.7" lengthAdjust="spacingAndGlyphs" >20</text>
<line x1="48.80" y1="520.50" x2="51.60" y2="520.50" stroke="#1a1a1a" stroke-width="1.0" />
<text x="44.90" y="523.25" font-size="7.7" text-anchor="end" fill="#333" stroke="#333" stroke-width="0.16" textLength="7.7" lengthAdjust="spacingAndGlyphs" >40</text>
<line x1="48.80" y1="497.50" x2="51.60" y2="497.50" stroke="#1a1a1a" stroke-width="1.0" />
<text x="44.90" y="500.25" font-size="7.7" text-anchor="end" fill="#333" stroke="#333" stroke-width="0.16" textLength="7.7" lengthAdjust="spacingAndGlyphs" >60</text>
<line x1="48.80" y1="474.50" x2="51.60" y2="474.50" stroke="#1a1a1a" stroke-width="1.0" />
<text x="44.90" y="477.25" font-size="7.7" text-anchor="end" fill="#333" stroke="#333" stroke-width="0.16" textLength="7.7" lengthAdjust="spacingAndGlyphs" >80</text>
<line x1="48.80" y1="451.50" x2="51.60" y2="451.50" stroke="#1a1a1a" stroke-width="1.0" />
<text x="44.90" y="454.25" font-size="7.7" text-anchor="end" fill="#333" stroke="#333" stroke-width="0.16" textLength="11.55" lengthAdjust="spacingAndGlyphs" >100</text>
<line x1="66.00" y1="566.50" x2="66.00" y2="569.00" stroke="#1a1a1a" stroke-width="0.9" />
<line x1="98.20" y1="566.50" x2="98.20" y2="569.00" stroke="#1a1a1a" stroke-width="0.9" />
<line x1="130.40" y1="566.50" x2="130.40" y2="569.00" stroke="#1a1a1a" stroke-width="0.9" />
<text x="66.00" y="579.50" font-size="7" text-anchor="middle" fill="#2a2a2a" stroke="#2a2a2a" stroke-width="0.16" textLength="21" lengthAdjust="spacingAndGlyphs" >T cells</text>
<text x="98.00" y="579.50" font-size="7" text-anchor="middle" fill="#2a2a2a" stroke="#2a2a2a" stroke-width="0.16" textLength="21" lengthAdjust="spacingAndGlyphs" >B cells</text>
<text x="130.40" y="579.50" font-size="7" text-anchor="middle" fill="#2a2a2a" stroke="#2a2a2a" stroke-width="0.16" textLength="24" lengthAdjust="spacingAndGlyphs" >Myeloid</text>
<text x="130.40" y="588.60" font-size="7" text-anchor="middle" fill="#2a2a2a" stroke="#2a2a2a" stroke-width="0.16" textLength="15" lengthAdjust="spacingAndGlyphs" >cells</text>
<circle cx="59.50" cy="454.10" r="2.1" fill="#8f88c8" stroke="#4a4390" stroke-width="0.6"/>
<text x="64.90" y="456.30" font-size="6.5" text-anchor="start" fill="#2a2a2a" stroke="#2a2a2a" stroke-width="0.16" textLength="9" lengthAdjust="spacingAndGlyphs" >WT</text>
<polygon points="59.30,461.29 61.70,465.51 56.90,465.51" fill="#ab001d" stroke="#7d0015" stroke-width="0.3"/>
<text x="64.90" y="466.60" font-size="6.5" text-anchor="start" fill="#2a2a2a" stroke="#2a2a2a" stroke-width="0.16" >Tet2<tspan font-size="3.5" dy="-2.5">-/-</tspan></text>
<rect x="56.50" y="563.86" width="6.40" height="2.64" fill="#cbc8ec" />
<rect x="68.50" y="563.86" width="6.40" height="2.64" fill="#e8968b" />
<rect x="88.50" y="538.33" width="7.70" height="28.17" fill="#cbc8ec" />
<rect x="100.20" y="555.92" width="7.70" height="10.58" fill="#e8968b" />
<rect x="120.50" y="500.95" width="7.40" height="65.55" fill="#cbc8ec" />
<rect x="132.60" y="482.55" width="7.70" height="83.95" fill="#e8968b" />
<line x1="124.20" y1="495.30" x2="124.20" y2="505.20" stroke="#1f1f4a" stroke-width="1.1" />
<line x1="122.40" y1="495.30" x2="126.00" y2="495.30" stroke="#1f1f4a" stroke-width="1.1" />
<line x1="122.40" y1="505.20" x2="126.00" y2="505.20" stroke="#1f1f4a" stroke-width="1.1" />
<line x1="136.40" y1="480.80" x2="136.40" y2="485.50" stroke="#1f1f4a" stroke-width="1.1" />
<line x1="134.60" y1="480.80" x2="138.20" y2="480.80" stroke="#1f1f4a" stroke-width="1.1" />
<line x1="134.60" y1="485.50" x2="138.20" y2="485.50" stroke="#1f1f4a" stroke-width="1.1" />
<circle cx="58.00" cy="563.60" r="1.9999999999999998" fill="#8f88c8" stroke="#4a4390" stroke-width="0.6"/>
<circle cx="61.00" cy="564.80" r="1.9999999999999998" fill="#8f88c8" stroke="#4a4390" stroke-width="0.6"/>
<polygon points="69.80,561.78 72.10,565.82 67.50,565.82" fill="#ab001d" stroke="#7d0015" stroke-width="0.3"/>
<polygon points="72.60,562.58 74.90,566.62 70.30,566.62" fill="#ab001d" stroke="#7d0015" stroke-width="0.3"/>
<circle cx="90.70" cy="538.50" r="1.9999999999999998" fill="#8f88c8" stroke="#4a4390" stroke-width="0.6"/>
<circle cx="92.90" cy="540.80" r="1.9999999999999998" fill="#8f88c8" stroke="#4a4390" stroke-width="0.6"/>
<circle cx="93.60" cy="542.50" r="1.9999999999999998" fill="#8f88c8" stroke="#4a4390" stroke-width="0.6"/>
<polygon points="101.50,551.98 103.80,556.02 99.20,556.02" fill="#ab001d" stroke="#7d0015" stroke-width="0.3"/>
<polygon points="104.00,553.48 106.30,557.52 101.70,557.52" fill="#ab001d" stroke="#7d0015" stroke-width="0.3"/>
<polygon points="106.00,553.98 108.30,558.02 103.70,558.02" fill="#ab001d" stroke="#7d0015" stroke-width="0.3"/>
<circle cx="124.40" cy="491.30" r="1.9999999999999998" fill="#8f88c8" stroke="#4a4390" stroke-width="0.6"/>
<circle cx="122.30" cy="502.30" r="1.9999999999999998" fill="#8f88c8" stroke="#4a4390" stroke-width="0.6"/>
<circle cx="125.70" cy="508.00" r="1.9999999999999998" fill="#8f88c8" stroke="#4a4390" stroke-width="0.6"/>
<polygon points="134.60,475.28 136.90,479.32 132.30,479.32" fill="#ab001d" stroke="#7d0015" stroke-width="0.3"/>
<polygon points="138.40,476.98 140.70,481.02 136.10,481.02" fill="#ab001d" stroke="#7d0015" stroke-width="0.3"/>
<polygon points="136.40,484.58 138.70,488.62 134.10,488.62" fill="#ab001d" stroke="#7d0015" stroke-width="0.3"/>
<line x1="93.60" y1="531.60" x2="105.00" y2="531.60" stroke="#151515" stroke-width="1.2" />
<circle cx="95.30" cy="528.20" r="1.05" fill="#222" />
<circle cx="98.60" cy="528.20" r="1.05" fill="#222" />
<circle cx="101.90" cy="528.20" r="1.05" fill="#222" />
<line x1="124.90" y1="472.10" x2="135.90" y2="472.10" stroke="#151515" stroke-width="1.2" />
<circle cx="130.40" cy="468.40" r="1.05" fill="#222" />
<text x="16.50" y="507.60" font-size="9.6" text-anchor="middle" fill="#2a2a2a" stroke="#2a2a2a" stroke-width="0.16" textLength="98.7" lengthAdjust="spacingAndGlyphs" transform="rotate(-90 16.50 507.60)" >Fraction of indicated lineages</text>
<text x="27.90" y="506.80" font-size="9.6" text-anchor="middle" fill="#2a2a2a" stroke="#2a2a2a" stroke-width="0.16" textLength="70" lengthAdjust="spacingAndGlyphs" transform="rotate(-90 27.90 506.80)" >(% of CD45+ in BM)</text>
<line x1="212.80" y1="448.00" x2="212.80" y2="567.20" stroke="#1a1a1a" stroke-width="1.4" />
<line x1="209.00" y1="566.70" x2="354.00" y2="566.70" stroke="#1a1a1a" stroke-width="1.4" />
<line x1="209.80" y1="566.60" x2="212.80" y2="566.60" stroke="#1a1a1a" stroke-width="1.0" />
<text x="205.60" y="569.35" font-size="7.7" text-anchor="end" fill="#333" stroke="#333" stroke-width="0.16" textLength="3.85" lengthAdjust="spacingAndGlyphs" >0</text>
<line x1="209.80" y1="537.65" x2="212.80" y2="537.65" stroke="#1a1a1a" stroke-width="1.0" />
<text x="205.60" y="540.40" font-size="7.7" text-anchor="end" fill="#333" stroke="#333" stroke-width="0.16" textLength="3.85" lengthAdjust="spacingAndGlyphs" >5</text>
<line x1="209.80" y1="508.70" x2="212.80" y2="508.70" stroke="#1a1a1a" stroke-width="1.0" />
<text x="205.60" y="511.45" font-size="7.7" text-anchor="end" fill="#333" stroke="#333" stroke-width="0.16" textLength="7.7" lengthAdjust="spacingAndGlyphs" >10</text>
<line x1="209.80" y1="479.75" x2="212.80" y2="479.75" stroke="#1a1a1a" stroke-width="1.0" />
<text x="205.60" y="482.50" font-size="7.7" text-anchor="end" fill="#333" stroke="#333" stroke-width="0.16" textLength="7.7" lengthAdjust="spacingAndGlyphs" >15</text>
<line x1="209.80" y1="450.80" x2="212.80" y2="450.80" stroke="#1a1a1a" stroke-width="1.0" />
<text x="205.60" y="453.55" font-size="7.7" text-anchor="end" fill="#333" stroke="#333" stroke-width="0.16" textLength="7.7" lengthAdjust="spacingAndGlyphs" >20</text>
<line x1="234.60" y1="566.70" x2="234.60" y2="569.30" stroke="#1a1a1a" stroke-width="0.9" />
<line x1="283.50" y1="566.70" x2="283.50" y2="569.30" stroke="#1a1a1a" stroke-width="0.9" />
<line x1="331.60" y1="566.70" x2="331.60" y2="569.30" stroke="#1a1a1a" stroke-width="0.9" />
<text x="235.20" y="579.50" font-size="7" text-anchor="middle" fill="#2a2a2a" stroke="#2a2a2a" stroke-width="0.16" textLength="21" lengthAdjust="spacingAndGlyphs" >T cells</text>
<text x="283.50" y="579.50" font-size="7" text-anchor="middle" fill="#2a2a2a" stroke="#2a2a2a" stroke-width="0.16" textLength="21" lengthAdjust="spacingAndGlyphs" >B cells</text>
<text x="331.20" y="579.50" font-size="7" text-anchor="middle" fill="#2a2a2a" stroke="#2a2a2a" stroke-width="0.16" textLength="41" lengthAdjust="spacingAndGlyphs" >Myeloid cells</text>
<text x="283.20" y="443.00" font-size="7.5" text-anchor="middle" fill="#444" stroke="#444" stroke-width="0.16" textLength="16.0" lengthAdjust="spacingAndGlyphs" >IL-1&#945;</text>
<circle cx="219.30" cy="451.70" r="2.3000000000000003" fill="#8f88c8" stroke="#4a4390" stroke-width="0.6"/>
<text x="225.40" y="453.80" font-size="6.5" text-anchor="start" fill="#2a2a2a" stroke="#2a2a2a" stroke-width="0.16" textLength="9" lengthAdjust="spacingAndGlyphs" >WT</text>
<rect x="217.00" y="460.00" width="4.60" height="4.60" fill="#8f88c8" />
<text x="225.40" y="463.90" font-size="6.5" text-anchor="start" fill="#2a2a2a" stroke="#2a2a2a" stroke-width="0.16" textLength="22" lengthAdjust="spacingAndGlyphs" >WT LPS</text>
<polygon points="219.30,470.35 222.20,475.45 216.40,475.45" fill="#ab001d" stroke="#7d0015" stroke-width="0.3"/>
<text x="225.40" y="475.20" font-size="6.5" text-anchor="start" fill="#2a2a2a" stroke="#2a2a2a" stroke-width="0.16" font-style="italic" >Tet2<tspan font-size="3.5" dy="-2.5">+/-</tspan></text>
<polygon points="219.30,485.55 222.20,480.45 216.40,480.45" fill="#ab001d" stroke="#7d0015" stroke-width="0.3"/>
<text x="225.40" y="485.60" font-size="6.5" text-anchor="start" fill="#2a2a2a" stroke="#2a2a2a" stroke-width="0.16" font-style="italic" >Tet2<tspan font-size="3.5" dy="-2.5">+/-</tspan><tspan dy="2.5" font-style="normal"> LPS</tspan></text>
<rect x="323.30" y="508.10" width="5.80" height="58.60" fill="#cbc8ec" />
<rect x="344.20" y="467.01" width="5.40" height="99.69" fill="#e8968b" />
<line x1="325.90" y1="491.60" x2="325.90" y2="523.80" stroke="#2a2a5a" stroke-width="1.1" />
<line x1="324.10" y1="491.60" x2="327.70" y2="491.60" stroke="#2a2a5a" stroke-width="1.1" />
<line x1="324.10" y1="523.80" x2="327.70" y2="523.80" stroke="#2a2a5a" stroke-width="1.1" />
<rect x="323.60" y="484.70" width="4.20" height="4.20" fill="#8f88c8" />
<rect x="323.60" y="494.80" width="4.20" height="4.20" fill="#8f88c8" />
<rect x="323.60" y="537.10" width="4.20" height="4.20" fill="#8f88c8" />
<polygon points="346.70,468.86 349.50,463.94 343.90,463.94" fill="#ab001d" stroke="#7d0015" stroke-width="0.3"/>
<polygon points="346.70,475.26 349.50,470.34 343.90,470.34" fill="#ab001d" stroke="#7d0015" stroke-width="0.3"/>
<circle cx="219.50" cy="566.50" r="2.3000000000000003" fill="#8f88c8" stroke="#4a4390" stroke-width="0.6"/>
<rect x="227.70" y="564.20" width="4.60" height="4.60" fill="#8f88c8" />
<polygon points="239.80,563.55 242.70,568.65 236.90,568.65" fill="#ab001d" stroke="#7d0015" stroke-width="0.3"/>
<polygon points="250.50,568.65 253.40,563.55 247.60,563.55" fill="#ab001d" stroke="#7d0015" stroke-width="0.3"/>
<circle cx="267.50" cy="566.50" r="2.3000000000000003" fill="#8f88c8" stroke="#4a4390" stroke-width="0.6"/>
<rect x="275.60" y="564.20" width="4.60" height="4.60" fill="#8f88c8" />
<polygon points="287.50,563.55 290.40,568.65 284.60,568.65" fill="#ab001d" stroke="#7d0015" stroke-width="0.3"/>
<polygon points="298.20,568.65 301.10,563.55 295.30,563.55" fill="#ab001d" stroke="#7d0015" stroke-width="0.3"/>
<circle cx="315.40" cy="566.50" r="2.3000000000000003" fill="#8f88c8" stroke="#4a4390" stroke-width="0.6"/>
<polygon points="336.30,563.55 339.20,568.65 333.40,568.65" fill="#ab001d" stroke="#7d0015" stroke-width="0.3"/>
<circle cx="219.50" cy="566.30" r="1.1" fill="#202050" />
<line x1="324.20" y1="450.00" x2="345.40" y2="450.00" stroke="#151515" stroke-width="1.2" />
<circle cx="334.90" cy="446.20" r="1.05" fill="#222" />
<line x1="338.90" y1="458.20" x2="346.90" y2="458.20" stroke="#151515" stroke-width="1.2" />
<circle cx="339.70" cy="454.20" r="1.05" fill="#222" />
<circle cx="343.00" cy="454.20" r="1.05" fill="#222" />
<circle cx="346.30" cy="454.20" r="1.05" fill="#222" />
<line x1="317.70" y1="479.50" x2="325.40" y2="479.50" stroke="#151515" stroke-width="1.2" />
<circle cx="319.85" cy="475.80" r="1.05" fill="#222" />
<circle cx="323.15" cy="475.80" r="1.05" fill="#222" />
<text x="180.80" y="507.00" font-size="9.6" text-anchor="middle" fill="#2a2a2a" stroke="#2a2a2a" stroke-width="0.16" textLength="77" lengthAdjust="spacingAndGlyphs" transform="rotate(-90 180.80 507.00)" >Cytokine concentration</text>
<text x="193.40" y="507.40" font-size="9.6" text-anchor="middle" fill="#2a2a2a" stroke="#2a2a2a" stroke-width="0.16" textLength="48.3" lengthAdjust="spacingAndGlyphs" transform="rotate(-90 193.40 507.40)" >in CM (pg/ml)</text>
<line x1="378.70" y1="448.20" x2="378.70" y2="567.00" stroke="#1a1a1a" stroke-width="1.4" />
<line x1="375.80" y1="566.50" x2="520.00" y2="566.50" stroke="#1a1a1a" stroke-width="1.4" />
<line x1="375.80" y1="566.50" x2="378.70" y2="566.50" stroke="#1a1a1a" stroke-width="1.0" />
<text x="372.20" y="569.25" font-size="7.7" text-anchor="end" fill="#333" stroke="#333" stroke-width="0.16" textLength="3.85" lengthAdjust="spacingAndGlyphs" >0</text>
<line x1="375.80" y1="528.00" x2="378.70" y2="528.00" stroke="#1a1a1a" stroke-width="1.0" />
<text x="372.20" y="530.75" font-size="7.7" text-anchor="end" fill="#333" stroke="#333" stroke-width="0.16" textLength="7.7" lengthAdjust="spacingAndGlyphs" >20</text>
<line x1="375.80" y1="489.50" x2="378.70" y2="489.50" stroke="#1a1a1a" stroke-width="1.0" />
<text x="372.20" y="492.25" font-size="7.7" text-anchor="end" fill="#333" stroke="#333" stroke-width="0.16" textLength="7.7" lengthAdjust="spacingAndGlyphs" >40</text>
<line x1="375.80" y1="451.00" x2="378.70" y2="451.00" stroke="#1a1a1a" stroke-width="1.0" />
<text x="372.20" y="453.75" font-size="7.7" text-anchor="end" fill="#333" stroke="#333" stroke-width="0.16" textLength="7.7" lengthAdjust="spacingAndGlyphs" >60</text>
<line x1="400.70" y1="566.50" x2="400.70" y2="569.10" stroke="#1a1a1a" stroke-width="0.9" />
<line x1="449.40" y1="566.50" x2="449.40" y2="569.10" stroke="#1a1a1a" stroke-width="0.9" />
<line x1="497.00" y1="566.50" x2="497.00" y2="569.10" stroke="#1a1a1a" stroke-width="0.9" />
<text x="400.70" y="579.50" font-size="7" text-anchor="middle" fill="#2a2a2a" stroke="#2a2a2a" stroke-width="0.16" textLength="21" lengthAdjust="spacingAndGlyphs" >T cells</text>
<text x="449.40" y="579.50" font-size="7" text-anchor="middle" fill="#2a2a2a" stroke="#2a2a2a" stroke-width="0.16" textLength="21" lengthAdjust="spacingAndGlyphs" >B cells</text>
<text x="497.00" y="579.50" font-size="7" text-anchor="middle" fill="#2a2a2a" stroke="#2a2a2a" stroke-width="0.16" textLength="41" lengthAdjust="spacingAndGlyphs" >Myeloid cells</text>
<text x="449.50" y="442.70" font-size="7.5" text-anchor="middle" fill="#444" stroke="#444" stroke-width="0.16" textLength="15.2" lengthAdjust="spacingAndGlyphs" >IL-1&#946;</text>
<rect x="489.20" y="491.40" width="5.90" height="75.10" fill="#cbc8ec" />
<rect x="509.60" y="498.70" width="6.40" height="67.80" fill="#e8968b" />
<line x1="492.20" y1="479.00" x2="492.20" y2="503.40" stroke="#2a2a5a" stroke-width="1.1" />
<line x1="490.40" y1="479.00" x2="494.00" y2="479.00" stroke="#2a2a5a" stroke-width="1.1" />
<line x1="490.40" y1="503.40" x2="494.00" y2="503.40" stroke="#2a2a5a" stroke-width="1.1" />
<line x1="513.00" y1="486.80" x2="513.00" y2="509.00" stroke="#1a1a1a" stroke-width="1.1" />
<line x1="511.20" y1="486.80" x2="514.80" y2="486.80" stroke="#1a1a1a" stroke-width="1.1" />
<line x1="511.20" y1="509.00" x2="514.80" y2="509.00" stroke="#1a1a1a" stroke-width="1.1" />
<rect x="490.10" y="469.70" width="4.20" height="4.20" fill="#8f88c8" />
<rect x="490.10" y="485.90" width="4.20" height="4.20" fill="#8f88c8" />
<rect x="490.10" y="512.00" width="4.20" height="4.20" fill="#8f88c8" />
<polygon points="513.20,478.06 516.00,473.14 510.40,473.14" fill="#ab001d" stroke="#7d0015" stroke-width="0.3"/>
<polygon points="513.20,506.66 516.00,501.74 510.40,501.74" fill="#ab001d" stroke="#7d0015" stroke-width="0.3"/>
<polygon points="513.20,516.16 516.00,511.24 510.40,511.24" fill="#ab001d" stroke="#7d0015" stroke-width="0.3"/>
<polygon points="502.20,552.54 505.00,557.46 499.40,557.46" fill="#ab001d" stroke="#7d0015" stroke-width="0.3"/>
<polygon points="502.20,561.04 505.00,565.96 499.40,565.96" fill="#ab001d" stroke="#7d0015" stroke-width="0.3"/>
<circle cx="385.70" cy="566.30" r="2.3000000000000003" fill="#8f88c8" stroke="#4a4390" stroke-width="0.6"/>
<rect x="393.50" y="564.00" width="4.60" height="4.60" fill="#8f88c8" />
<polygon points="406.10,563.35 409.00,568.45 403.20,568.45" fill="#ab001d" stroke="#7d0015" stroke-width="0.3"/>
<polygon points="416.40,568.45 419.30,563.35 413.50,563.35" fill="#ab001d" stroke="#7d0015" stroke-width="0.3"/>
<circle cx="433.30" cy="566.30" r="2.3000000000000003" fill="#8f88c8" stroke="#4a4390" stroke-width="0.6"/>
<rect x="441.50" y="564.00" width="4.60" height="4.60" fill="#8f88c8" />
<polygon points="454.20,563.35 457.10,568.45 451.30,568.45" fill="#ab001d" stroke="#7d0015" stroke-width="0.3"/>
<polygon points="464.50,568.45 467.40,563.35 461.60,563.35" fill="#ab001d" stroke="#7d0015" stroke-width="0.3"/>
<circle cx="482.00" cy="566.30" r="2.3000000000000003" fill="#8f88c8" stroke="#4a4390" stroke-width="0.6"/>
<polygon points="416.40,565.15 419.30,560.05 413.50,560.05" fill="#ab001d" stroke="#7d0015" stroke-width="0.3"/>
<line x1="485.10" y1="466.10" x2="493.40" y2="466.10" stroke="#151515" stroke-width="1.2" />
<circle cx="487.65" cy="461.90" r="1.05" fill="#222" />
<circle cx="490.95" cy="461.90" r="1.05" fill="#222" />
<line x1="505.30" y1="466.10" x2="512.40" y2="466.10" stroke="#151515" stroke-width="1.2" />
<circle cx="507.25" cy="461.90" r="1.05" fill="#222" />
<circle cx="510.55" cy="461.90" r="1.05" fill="#222" />
</svg>
</body></html>
